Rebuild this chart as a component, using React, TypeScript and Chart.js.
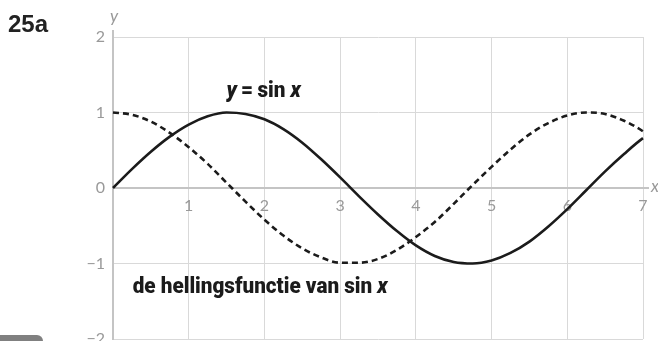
import React, { useEffect, useRef } from "react";
import { Chart, registerables } from "chart.js";

Chart.register(...registerables);

// x positions where the two curves are sampled
const xValues = [
  0, 0.25, 0.5, 0.75, 1, 1.25, 1.5, 1.75, 2, 2.25, 2.5, 2.75, 3, 3.25, 3.5,
  3.75, 4, 4.25, 4.5, 4.75, 5, 5.25, 5.5, 5.75, 6, 6.25, 6.5, 6.75, 7, 7.05,
];

// y = sin x
const sinValues = [
  0, 0.25, 0.48, 0.68, 0.84, 0.95, 1.0, 0.98, 0.91, 0.78, 0.6, 0.38, 0.14,
  -0.11, -0.35, -0.57, -0.76, -0.9, -0.98, -1.0, -0.96, -0.86, -0.71, -0.51,
  -0.28, -0.03, 0.22, 0.45, 0.66, 0.69,
];

// de hellingsfunctie van sin x
const slopeValues = [
  1.0, 0.97, 0.88, 0.73, 0.54, 0.32, 0.07, -0.18, -0.42, -0.63, -0.8, -0.92,
  -0.99, -0.99, -0.94, -0.82, -0.65, -0.45, -0.21, 0.04, 0.28, 0.51, 0.71,
  0.86, 0.96, 1.0, 0.98, 0.89, 0.75, 0.71,
];

const xTickValues = [0, 1, 2, 3, 4, 5, 6, 7];
const xTickLabels = ["", "1", "2", "3", "4", "5", "6", "7"];
const yTickValues = [-2, -1, 0, 1, 2];
const yTickLabels = ["\u22122", "\u22121", "0", "1", "2"];

const GRID = "#d9d9d9";
const AXIS = "#c4c4c4";
const TICK = "#999999";
const INK = "#1b1b1b";
const CAPTION_FONT = "22px Roboto";
const SLOPE_CAPTION_WIDTH = 255;

const gridColor = (ctx: any) =>
  ctx.tick && ctx.tick.value === 0 ? "rgba(0,0,0,0)" : GRID;

type Part = [string, boolean];

// axis extensions, axis names and the curve captions
const decorations = {
  id: "decorations",
  afterDraw(chart: any) {
    const { ctx, chartArea, scales } = chart;
    const x0 = scales.x.getPixelForValue(0);
    const y0 = scales.y.getPixelForValue(0);
    ctx.save();
    ctx.strokeStyle = AXIS;
    ctx.lineWidth = 2;
    ctx.beginPath();
    ctx.moveTo(chartArea.right, y0);
    ctx.lineTo(chartArea.right + 6, y0);
    ctx.moveTo(x0, chartArea.top);
    ctx.lineTo(x0, chartArea.top - 7);
    ctx.stroke();

    ctx.fillStyle = TICK;
    ctx.font = "italic 17px Lato";
    ctx.textBaseline = "middle";
    ctx.textAlign = "left";
    ctx.fillText("x", chartArea.right + 8, y0 - 1);
    ctx.textAlign = "center";
    ctx.fillText("y", x0 + 1, chartArea.top - 20);

    // captions: heavy, condensed, with y and x in italics
    ctx.fillStyle = INK;
    ctx.textBaseline = "alphabetic";
    ctx.textAlign = "left";
    const setFont = (it: boolean) => {
      ctx.font = (it ? "italic 900 " : "900 ") + CAPTION_FONT;
    };
    const widthOf = (parts: Part[]) =>
      parts.reduce((s, [t, it]) => {
        setFont(it);
        return s + ctx.measureText(t).width;
      }, 0);

    const sinCaption: Part[] = [
      ["y", true],
      ["\u2009=\u2009sin ", false],
      ["x", true],
    ];
    const slopeCaption: Part[] = [
      ["de hellingsfunctie van sin ", false],
      ["x", true],
    ];
    const squeeze = Math.min(1, SLOPE_CAPTION_WIDTH / widthOf(slopeCaption));

    const drawParts = (parts: Part[], left: number, baseline: number) => {
      ctx.save();
      ctx.translate(left, baseline);
      ctx.scale(squeeze, 1);
      let px = 0;
      parts.forEach(([t, it]) => {
        setFont(it);
        ctx.fillText(t, px, 0);
        px += ctx.measureText(t).width;
      });
      ctx.restore();
    };

    drawParts(
      sinCaption,
      scales.x.getPixelForValue(1.99) - (widthOf(sinCaption) * squeeze) / 2,
      scales.y.getPixelForValue(1.2)
    );
    drawParts(
      slopeCaption,
      scales.x.getPixelForValue(0.26),
      scales.y.getPixelForValue(-1.39)
    );
    ctx.restore();
  },
};

export default function App() {
  const canvasRef = useRef<HTMLCanvasElement | null>(null);

  useEffect(() => {
    const canvas = canvasRef.current;
    if (!canvas) return;
    const chart = new Chart(canvas, {
      type: "line",
      data: {
        datasets: [
          {
            label: "y = sin x",
            data: xValues.map((x, i) => ({ x, y: sinValues[i] })),
            borderColor: INK,
            borderWidth: 2.6,
            pointRadius: 0,
            cubicInterpolationMode: "monotone",
            clip: false as any,
          },
          {
            label: "de hellingsfunctie van sin x",
            data: xValues.map((x, i) => ({ x, y: slopeValues[i] })),
            borderColor: INK,
            borderWidth: 2.6,
            borderDash: [6, 4],
            pointRadius: 0,
            cubicInterpolationMode: "monotone",
            clip: false as any,
          },
        ],
      },
      options: {
        responsive: false,
        animation: false,
        devicePixelRatio: 1,
        layout: { padding: { left: 0, top: 37, right: 15, bottom: 2 } },
        plugins: {
          legend: { display: false },
          tooltip: { enabled: false },
        },
        scales: {
          x: {
            type: "linear",
            min: 0,
            max: 7,
            position: { y: 0 } as any,
            afterBuildTicks: (scale: any) => {
              scale.ticks = xTickValues.map((v) => ({ value: v }));
            },
            ticks: {
              callback: (v: any) => xTickLabels[xTickValues.indexOf(Number(v))],
              color: TICK,
              font: { family: "Lato", size: 16 },
              padding: 8,
              maxRotation: 0,
              autoSkip: false,
            },
            grid: { color: gridColor, lineWidth: 1, drawTicks: false },
            border: { color: AXIS, width: 2 },
          },
          y: {
            type: "linear",
            min: -2,
            max: 2,
            afterBuildTicks: (scale: any) => {
              scale.ticks = yTickValues.map((v) => ({ value: v }));
            },
            afterFit: (scale: any) => {
              scale.width = 113;
              scale.paddingTop = 0;
              scale.paddingBottom = 0;
            },
            ticks: {
              callback: (v: any) => yTickLabels[yTickValues.indexOf(Number(v))],
              color: TICK,
              font: { family: "Lato", size: 16 },
              padding: 8,
            },
            grid: { color: gridColor, lineWidth: 1, drawTicks: false },
            border: { color: AXIS, width: 2 },
          },
        },
      },
      plugins: [decorations],
    });
    return () => chart.destroy();
  }, []);

  return (
    <div
      style={{
        position: "fixed",
        left: 0,
        top: 0,
        width: 658,
        height: 341,
        background: "#fff",
        overflow: "hidden",
      }}
    >
      <canvas ref={canvasRef} width={658} height={341} style={{ display: "block" }} />
      <div
        style={{
          position: "absolute",
          left: 8,
          top: 10,
          font: "bold 24px 'Liberation Sans', Arial, sans-serif",
          color: "#222",
          lineHeight: "28px",
        }}
      >
        25a
      </div>
      <div
        style={{
          position: "absolute",
          left: 0,
          top: 335,
          width: 43,
          height: 12,
          background: "#808080",
          borderTopRightRadius: 6,
        }}
      />
    </div>
  );
}
